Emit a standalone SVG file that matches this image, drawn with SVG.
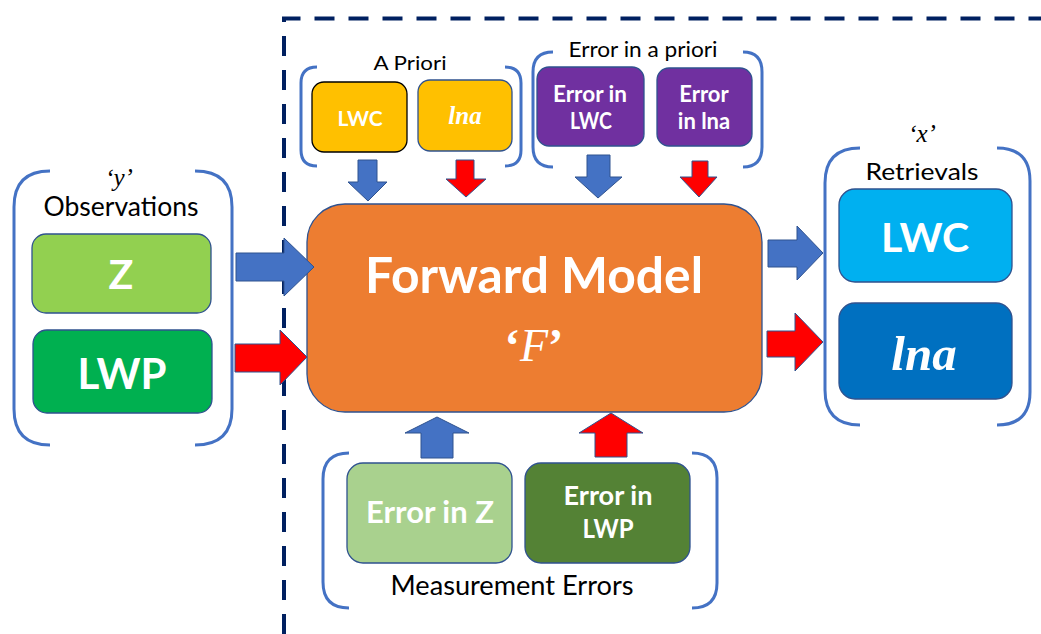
<svg xmlns="http://www.w3.org/2000/svg" width="1041" height="634" viewBox="0 0 1041 634">
<style>
.br{fill:none;stroke:#4472c4;stroke-width:3;stroke-linecap:butt}
.bx{stroke:#2f528f;stroke-width:1.3}
.lbl{font-family:Lato,"Liberation Sans",sans-serif;fill:#000;text-anchor:middle}
.wb{font-family:Lato,"Liberation Sans",sans-serif;font-weight:bold;fill:#fff;text-anchor:middle}
.wi{font-family:"Liberation Serif",serif;font-style:italic;fill:#fff;text-anchor:middle}
.q{font-family:"Liberation Serif",serif;font-style:italic;fill:#000;text-anchor:middle}
.ab{fill:#4472c4;stroke:#2f528f;stroke-width:1}
.ar{fill:#ff0000;stroke:#2f528f;stroke-width:1}
.dash{fill:none;stroke:#002060;stroke-width:4;stroke-dasharray:20 14}
</style>
<rect width="1041" height="634" fill="#fff"/>
<g id="boundary">
<path class="dash" d="M284,634 L284,18.5 L1041,18.5"/>
</g>
<g id="observations">
<path class="br" d="M50,171 Q14,171 14,207 L14,409 Q14,445 50,445"/>
<path class="br" d="M195,171 Q232,171 232,207 L232,409 Q232,445 195,445"/>
<text class="q" x="119" y="186" font-size="25">‘y’</text>
<text class="lbl" x="121" y="216" font-size="26" textLength="155" lengthAdjust="spacingAndGlyphs">Observations</text>
</g>
<g id="obs-z">
<rect class="bx" x="32" y="234" width="179" height="79" rx="14" fill="#92d050"/>
<text class="wb" x="121" y="289" font-size="41">Z</text>
</g>
<g id="obs-lwp">
<rect class="bx" x="33" y="330" width="179" height="83" rx="14" fill="#00b050"/>
<text class="wb" x="122" y="389" font-size="42">LWP</text>
</g>
<g id="apriori">
<path class="br" d="M317,67 Q301,67 301,83 L301,150 Q301,166 317,166"/>
<path class="br" d="M505,67 Q521,67 521,83 L521,150 Q521,166 505,166"/>
<text class="lbl" x="410" y="70" font-size="20" textLength="73" lengthAdjust="spacingAndGlyphs">A Priori</text>
</g>
<g id="apriori-lwc">
<rect x="312" y="82" width="95" height="70" rx="12" fill="#ffc000" stroke="#000" stroke-width="1.3"/>
<text class="wb" x="360" y="126" font-size="21">LWC</text>
</g>
<g id="apriori-lna">
<rect class="bx" x="418" y="80" width="94" height="71" rx="12" fill="#ffc000"/>
<text class="wi" x="465" y="124" font-size="25" font-weight="bold">lna</text>
</g>
<g id="error-apriori">
<path class="br" d="M553,52 Q533,52 533,72 L533,147 Q533,167 553,167"/>
<path class="br" d="M743,52 Q762,52 762,72 L762,147 Q762,167 743,167"/>
<text class="lbl" x="643" y="57" font-size="21" textLength="149" lengthAdjust="spacingAndGlyphs">Error in a priori</text>
</g>
<g id="error-lwc">
<rect class="bx" x="537" y="67" width="107" height="79" rx="12" fill="#7030a0"/>
<text class="wb" x="590" y="102" font-size="22" textLength="74" lengthAdjust="spacingAndGlyphs">Error in</text>
<text class="wb" x="591" y="129" font-size="22" textLength="42" lengthAdjust="spacingAndGlyphs">LWC</text>
</g>
<g id="error-lna">
<rect class="bx" x="657" y="68" width="95" height="78" rx="12" fill="#7030a0"/>
<text class="wb" x="704" y="102" font-size="22">Error</text>
<text class="wb" x="704" y="129" font-size="22">in lna</text>
</g>
<g id="forward-model">
<rect class="bx" x="307" y="204" width="455" height="208" rx="38" fill="#ed7d31"/>
<text class="wb" x="534" y="293" font-size="50" textLength="338" lengthAdjust="spacingAndGlyphs">Forward Model</text>
<text class="wi" x="534" y="361" font-size="46"><tspan font-weight="bold" font-style="normal">‘</tspan>F<tspan font-weight="bold" font-style="normal">’</tspan></text>
</g>
<g id="retrievals">
<path class="br" d="M860,148 Q825,148 825,183 L825,390 Q825,425 860,425"/>
<path class="br" d="M997,148 Q1030,148 1030,181 L1030,392 Q1030,425 997,425"/>
<text class="q" x="922" y="142" font-size="25">‘x’</text>
<text class="lbl" x="922" y="180" font-size="24" textLength="113" lengthAdjust="spacingAndGlyphs">Retrievals</text>
</g>
<g id="ret-lwc">
<rect class="bx" x="839" y="189" width="173" height="93" rx="16" fill="#00b0f0"/>
<text class="wb" x="925" y="252" font-size="41">LWC</text>
</g>
<g id="ret-lna">
<rect class="bx" x="839" y="303" width="173" height="96" rx="16" fill="#0070c0"/>
<text class="wi" x="924" y="370" font-size="49" font-weight="bold">lna</text>
</g>
<g id="measurement-errors">
<path class="br" d="M349,453 Q323,453 323,479 L323,582 Q323,608 349,608"/>
<path class="br" d="M692,453 Q717,453 717,478 L717,583 Q717,608 692,608"/>
<text class="lbl" x="512" y="595" font-size="26" textLength="243" lengthAdjust="spacingAndGlyphs">Measurement Errors</text>
</g>
<g id="error-z">
<rect class="bx" x="347" y="463" width="165" height="100" rx="16" fill="#a9d18e"/>
<text class="wb" x="430" y="523" font-size="30" textLength="128" lengthAdjust="spacingAndGlyphs">Error in Z</text>
</g>
<g id="error-lwp">
<rect class="bx" x="525" y="463" width="165" height="100" rx="16" fill="#548235"/>
<text class="wb" x="608" y="505" font-size="27" textLength="89" lengthAdjust="spacingAndGlyphs">Error in</text>
<text class="wb" x="608" y="538" font-size="27" textLength="51" lengthAdjust="spacingAndGlyphs">LWP</text>
</g>
<g id="connectors">
<path class="ab" d="M236,253 L284,253 L284,238 L314,267 L284,296 L284,281 L236,281 Z"/>
<path class="ar" d="M235,344 L280,344 L280,330 L307,357 L280,385 L280,372 L235,372 Z"/>
<path class="ab" d="M768,240 L797,240 L797,226 L823,253 L797,280 L797,267 L768,267 Z"/>
<path class="ar" d="M767,331 L795,331 L795,313 L823,342 L795,371 L795,357 L767,357 Z"/>
<path class="ab" d="M358,160 L377,160 L377,182 L387,182 L368,201 L348,182 L358,182 Z"/>
<path class="ar" d="M456,160 L474,160 L474,179 L486,179 L466,197 L446,179 L456,179 Z"/>
<path class="ab" d="M587,155 L610,155 L610,177 L622,177 L598,198 L575,177 L587,177 Z"/>
<path class="ar" d="M692,161 L708,161 L708,177 L717,177 L699,197 L680,177 L692,177 Z"/>
<path class="ab" d="M421,458 L453,458 L453,433 L469,433 L437,417 L405,433 L421,433 Z"/>
<path class="ar" d="M595,457 L627,457 L627,433 L643,433 L611,413 L579,433 L595,433 Z"/>
</g>
</svg>
